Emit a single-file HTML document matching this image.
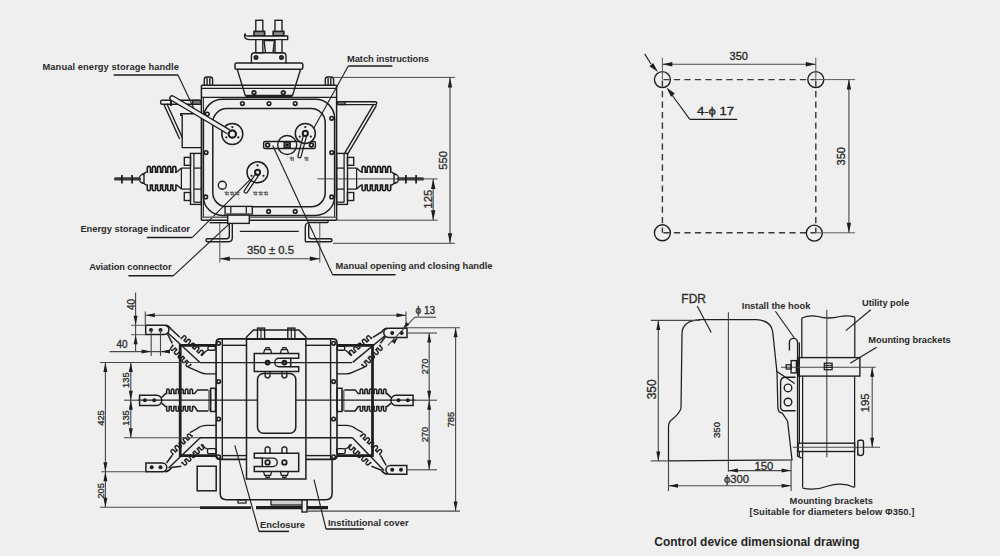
<!DOCTYPE html>
<html><head><meta charset="utf-8"><style>
html,body{margin:0;padding:0;background:#efefef;}
svg{display:block;font-family:"Liberation Sans",sans-serif;}
</style></head><body>
<svg width="1000" height="556" viewBox="0 0 1000 556">
<rect x="0" y="0" width="1000" height="556" fill="#efefef"/>
<line x1="662.40" y1="79.60" x2="815.80" y2="79.60" stroke="#3a3a3a" stroke-width="1.44" stroke-dasharray="6.2 4.3" stroke-dashoffset="-1"/>
<line x1="662.40" y1="232.80" x2="815.80" y2="232.80" stroke="#3a3a3a" stroke-width="1.44" stroke-dasharray="6.2 4.3" stroke-dashoffset="-1"/>
<line x1="662.40" y1="79.60" x2="662.40" y2="232.80" stroke="#3a3a3a" stroke-width="1.44" stroke-dasharray="6.2 4.3" stroke-dashoffset="-1"/>
<line x1="815.80" y1="79.60" x2="815.80" y2="232.80" stroke="#3a3a3a" stroke-width="1.44" stroke-dasharray="6.2 4.3" stroke-dashoffset="-1"/>
<circle cx="662.40" cy="79.60" r="8.00" stroke="#1e1e1e" stroke-width="1.38" fill="none"/>
<circle cx="815.80" cy="79.60" r="8.00" stroke="#1e1e1e" stroke-width="1.38" fill="none"/>
<circle cx="662.40" cy="232.80" r="8.00" stroke="#1e1e1e" stroke-width="1.38" fill="none"/>
<circle cx="814.30" cy="233.10" r="8.00" stroke="#1e1e1e" stroke-width="1.38" fill="none"/>
<line x1="662.40" y1="57.70" x2="662.40" y2="79.60" stroke="#5a5a5a" stroke-width="1.00" />
<line x1="815.80" y1="57.70" x2="815.80" y2="79.60" stroke="#5a5a5a" stroke-width="1.00" />
<line x1="662.40" y1="64.20" x2="815.80" y2="64.20" stroke="#484848" stroke-width="1.12" />
<path d="M662.40,64.20 L672.40,62.00 L672.40,66.40Z" fill="#1e1e1e"/>
<path d="M815.80,64.20 L805.80,66.40 L805.80,62.00Z" fill="#1e1e1e"/>
<text x="738.8" y="59.6" font-size="11" font-weight="normal" text-anchor="middle" fill="#222" stroke="#222" stroke-width="0.3">350</text>
<line x1="815.80" y1="79.60" x2="855.10" y2="79.60" stroke="#5a5a5a" stroke-width="1.00" />
<line x1="814.30" y1="232.80" x2="855.10" y2="232.80" stroke="#5a5a5a" stroke-width="1.00" />
<line x1="848.90" y1="79.60" x2="848.90" y2="232.80" stroke="#484848" stroke-width="1.12" />
<path d="M848.90,79.60 L851.10,89.60 L846.70,89.60Z" fill="#1e1e1e"/>
<path d="M848.90,232.80 L846.70,222.80 L851.10,222.80Z" fill="#1e1e1e"/>
<text x="845" y="156.2" font-size="11" font-weight="normal" text-anchor="middle" fill="#222" transform="rotate(-90 845 156.2)" stroke="#222" stroke-width="0.3">350</text>
<line x1="644.70" y1="53.90" x2="651.00" y2="64.00" stroke="#1e1e1e" stroke-width="1.12" />
<path d="M658.00,72.00 L649.42,66.28 L653.12,62.92Z" fill="#1e1e1e"/>
<line x1="672.00" y1="95.00" x2="689.80" y2="119.40" stroke="#1e1e1e" stroke-width="1.12" />
<path d="M666.50,87.50 L674.82,93.58 L670.98,96.78Z" fill="#1e1e1e"/>
<line x1="689.80" y1="119.40" x2="737.20" y2="119.40" stroke="#1e1e1e" stroke-width="1.12" />
<text x="697" y="114.5" font-size="11.5" font-weight="normal" text-anchor="start" fill="#222" textLength="37" lengthAdjust="spacingAndGlyphs" stroke="#222" stroke-width="0.3">4-&#981; 17</text>
<g transform="translate(42.5 70.4) scale(1 1.06)">
<text x="0" y="0" font-size="9.35" font-weight="bold" text-anchor="start" fill="#2b2b2b" textLength="136.5" lengthAdjust="spacing">Manual energy storage handle</text>
</g>
<line x1="113.60" y1="75.00" x2="178.00" y2="75.00" stroke="#1e1e1e" stroke-width="1.50" />
<line x1="178.00" y1="75.00" x2="196.00" y2="113.00" stroke="#1e1e1e" stroke-width="1.12" />
<g transform="translate(347 62.1) scale(1 1.06)">
<text x="0" y="0" font-size="9.35" font-weight="bold" text-anchor="start" fill="#2b2b2b" textLength="82" lengthAdjust="spacing">Match instructions</text>
</g>
<line x1="348.30" y1="66.00" x2="392.40" y2="66.00" stroke="#1e1e1e" stroke-width="1.50" />
<line x1="348.30" y1="66.00" x2="311.00" y2="133.20" stroke="#1e1e1e" stroke-width="1.12" />
<g transform="translate(80.4 232.3) scale(1 1.06)">
<text x="0" y="0" font-size="9.35" font-weight="bold" text-anchor="start" fill="#2b2b2b" textLength="109.6" lengthAdjust="spacing">Energy storage indicator</text>
</g>
<line x1="146.80" y1="237.40" x2="192.40" y2="237.40" stroke="#1e1e1e" stroke-width="1.50" />
<line x1="192.40" y1="237.40" x2="257.50" y2="172.30" stroke="#1e1e1e" stroke-width="1.12" />
<g transform="translate(89.2 270.2) scale(1 1.06)">
<text x="0" y="0" font-size="9.35" font-weight="bold" text-anchor="start" fill="#2b2b2b" textLength="82.4" lengthAdjust="spacing">Aviation connector</text>
</g>
<line x1="128.40" y1="275.80" x2="173.20" y2="275.80" stroke="#1e1e1e" stroke-width="1.50" />
<line x1="173.20" y1="275.80" x2="236.30" y2="217.40" stroke="#1e1e1e" stroke-width="1.12" />
<g transform="translate(335.6 269.2) scale(1 1.06)">
<text x="0" y="0" font-size="9.35" font-weight="bold" text-anchor="start" fill="#2b2b2b" textLength="156.8" lengthAdjust="spacing">Manual opening and closing handle</text>
</g>
<rect x="255.80" y="20.30" width="7.00" height="32.50" rx="0" stroke="#1e1e1e" stroke-width="1.38" fill="none"/>
<rect x="254.00" y="31.40" width="10.60" height="4.40" rx="0" stroke="#1e1e1e" stroke-width="1.62" fill="#8a8a8a"/>
<rect x="275.00" y="20.30" width="7.00" height="32.50" rx="0" stroke="#1e1e1e" stroke-width="1.38" fill="none"/>
<rect x="273.20" y="31.40" width="10.60" height="4.40" rx="0" stroke="#1e1e1e" stroke-width="1.62" fill="#8a8a8a"/>
<path d="M245,34.2 Q245.5,36.5 248,36 L287.7,36 L287.7,39.6 L249,39.6 Q244,39 244.6,35 Z" stroke="#1e1e1e" stroke-width="1.38" fill="#efefef" />
<path d="M264,40 L265.5,52.8 M274.5,40 L273,52.8 M264,40.6 L274.5,40.6" stroke="#1e1e1e" stroke-width="1.38" fill="none" />
<path d="M251.4,63.5 L251.4,56 Q251.4,52.8 254.6,52.8 L282.8,52.8 Q286,52.8 286,56 L286,63.5" stroke="#1e1e1e" stroke-width="1.38" fill="none" />
<circle cx="256.00" cy="57.40" r="1.70" stroke="#1e1e1e" stroke-width="1.62" fill="#555"/>
<circle cx="281.50" cy="57.40" r="1.70" stroke="#1e1e1e" stroke-width="1.62" fill="#555"/>
<rect x="235.00" y="63.10" width="67.80" height="6.10" rx="1.5" stroke="#1e1e1e" stroke-width="1.50" fill="none"/>
<line x1="237.20" y1="69.20" x2="245.40" y2="95.90" stroke="#1e1e1e" stroke-width="1.38" />
<line x1="300.60" y1="69.20" x2="292.40" y2="95.90" stroke="#1e1e1e" stroke-width="1.38" />
<line x1="245.40" y1="95.90" x2="292.40" y2="95.90" stroke="#1e1e1e" stroke-width="2.50" />
<circle cx="254.00" cy="92.60" r="1.80" stroke="#1e1e1e" stroke-width="1.75" fill="none"/>
<circle cx="283.30" cy="92.60" r="1.80" stroke="#1e1e1e" stroke-width="1.75" fill="none"/>
<line x1="201.40" y1="85.30" x2="336.60" y2="85.30" stroke="#1e1e1e" stroke-width="1.62" />
<line x1="201.40" y1="88.30" x2="336.60" y2="88.30" stroke="#1e1e1e" stroke-width="1.25" />
<line x1="201.40" y1="97.40" x2="336.60" y2="97.40" stroke="#1e1e1e" stroke-width="1.38" />
<line x1="201.40" y1="85.30" x2="201.40" y2="220.30" stroke="#1e1e1e" stroke-width="1.50" />
<line x1="203.40" y1="97.40" x2="203.40" y2="217.50" stroke="#1e1e1e" stroke-width="1.00" />
<line x1="336.60" y1="85.30" x2="336.60" y2="220.30" stroke="#1e1e1e" stroke-width="1.50" />
<line x1="334.60" y1="118.00" x2="334.60" y2="217.50" stroke="#1e1e1e" stroke-width="1.00" />
<line x1="201.40" y1="217.30" x2="336.60" y2="217.30" stroke="#666" stroke-width="1.62" />
<line x1="201.40" y1="220.30" x2="336.60" y2="220.30" stroke="#1e1e1e" stroke-width="1.50" />
<path d="M204.3,85 L204.3,79.5 Q204.3,77 206.8,77 L210.10000000000002,77 Q212.60000000000002,77 212.60000000000002,79.5 L212.60000000000002,85 M207.10000000000002,78 L207.10000000000002,85 M209.8,78 L209.8,85" stroke="#1e1e1e" stroke-width="1.38" fill="none" />
<path d="M325.3,85 L325.3,79.5 Q325.3,77 327.8,77 L331.1,77 Q333.6,77 333.6,79.5 L333.6,85 M328.1,78 L328.1,85 M330.8,78 L330.8,85" stroke="#1e1e1e" stroke-width="1.38" fill="none" />
<rect x="203.40" y="99.30" width="131.20" height="116.10" rx="19" stroke="#1e1e1e" stroke-width="1.50" fill="none"/>
<rect x="212.80" y="108.60" width="112.40" height="98.10" rx="14" stroke="#1e1e1e" stroke-width="1.50" fill="none"/>
<circle cx="242.40" cy="103.60" r="1.80" stroke="#1e1e1e" stroke-width="1.62" fill="none"/>
<circle cx="269.00" cy="103.60" r="1.80" stroke="#1e1e1e" stroke-width="1.62" fill="none"/>
<circle cx="295.20" cy="103.60" r="1.80" stroke="#1e1e1e" stroke-width="1.62" fill="none"/>
<circle cx="206.10" cy="152.60" r="1.80" stroke="#1e1e1e" stroke-width="1.62" fill="none"/>
<circle cx="331.70" cy="152.60" r="1.80" stroke="#1e1e1e" stroke-width="1.62" fill="none"/>
<circle cx="331.70" cy="118.30" r="1.80" stroke="#1e1e1e" stroke-width="1.62" fill="none"/>
<circle cx="207.30" cy="114.00" r="1.80" stroke="#1e1e1e" stroke-width="1.62" fill="none"/>
<circle cx="205.70" cy="196.90" r="1.80" stroke="#1e1e1e" stroke-width="1.62" fill="none"/>
<circle cx="331.70" cy="196.90" r="1.80" stroke="#1e1e1e" stroke-width="1.62" fill="none"/>
<circle cx="268.60" cy="211.40" r="1.80" stroke="#1e1e1e" stroke-width="1.62" fill="none"/>
<circle cx="295.20" cy="211.40" r="1.80" stroke="#1e1e1e" stroke-width="1.62" fill="none"/>
<rect x="160.60" y="100.30" width="39.80" height="4.00" rx="1.5" stroke="#1e1e1e" stroke-width="1.38" fill="none"/>
<rect x="192.60" y="100.30" width="8.30" height="4.00" rx="0" stroke="#1e1e1e" stroke-width="1.25" fill="#777"/>
<path d="M171,99 L171,106" stroke="#1e1e1e" stroke-width="2.00" fill="none" />
<line x1="164.13" y1="104.92" x2="179.63" y2="139.02" stroke="#1e1e1e" stroke-width="1.38" />
<line x1="166.87" y1="103.68" x2="182.37" y2="137.78" stroke="#1e1e1e" stroke-width="1.38" />
<rect x="338.00" y="101.70" width="38.70" height="2.90" rx="1.4" stroke="#1e1e1e" stroke-width="1.38" fill="none"/>
<rect x="337.50" y="101.70" width="7.50" height="2.90" rx="0" stroke="#1e1e1e" stroke-width="1.25" fill="#777"/>
<line x1="373.91" y1="103.83" x2="344.71" y2="153.03" stroke="#1e1e1e" stroke-width="1.38" />
<line x1="376.49" y1="105.37" x2="347.29" y2="154.57" stroke="#1e1e1e" stroke-width="1.38" />
<path d="M201.4,113.7 L180.7,113.7 L180.7,115.4 L182.2,115.4 L182.2,147.6 L201.4,147.6" stroke="#1e1e1e" stroke-width="1.38" fill="none" />
<circle cx="232.30" cy="134.00" r="10.50" stroke="#1e1e1e" stroke-width="1.50" fill="#efefef"/>
<circle cx="232.30" cy="134.00" r="3.60" stroke="#1e1e1e" stroke-width="2.00" fill="none"/>
<circle cx="232.30" cy="127.10" r="1.10" fill="#1e1e1e"/>
<circle cx="226.32" cy="137.45" r="1.10" fill="#1e1e1e"/>
<circle cx="238.28" cy="137.45" r="1.10" fill="#1e1e1e"/>
<path d="M229.78,129.83 L173.18,96.03 A2.3,2.3 0 0 0 170.82,99.97 L227.42,133.77" stroke="#1e1e1e" stroke-width="1.38" fill="#efefef" />
<circle cx="232.30" cy="134.00" r="3.60" stroke="#1e1e1e" stroke-width="2.00" fill="#efefef"/>
<rect x="263.60" y="141.50" width="51.80" height="7.00" rx="1.5" stroke="#1e1e1e" stroke-width="1.38" fill="#efefef"/>
<circle cx="267.60" cy="145.00" r="1.90" stroke="#1e1e1e" stroke-width="1.75" fill="none"/>
<circle cx="311.40" cy="145.00" r="1.90" stroke="#1e1e1e" stroke-width="1.75" fill="none"/>
<circle cx="305.30" cy="133.40" r="10.00" stroke="#1e1e1e" stroke-width="1.50" fill="#efefef"/>
<circle cx="305.30" cy="133.40" r="2.60" stroke="#1e1e1e" stroke-width="2.00" fill="none"/>
<circle cx="305.30" cy="127.00" r="1.10" fill="#1e1e1e"/>
<circle cx="299.76" cy="136.60" r="1.10" fill="#1e1e1e"/>
<circle cx="310.84" cy="136.60" r="1.10" fill="#1e1e1e"/>
<circle cx="287.20" cy="145.00" r="9.50" stroke="#1e1e1e" stroke-width="1.38" fill="none"/>
<rect x="284.30" y="142.10" width="5.80" height="5.80" rx="0" stroke="#1e1e1e" stroke-width="1.62" fill="#666"/>
<circle cx="287.20" cy="145.00" r="1.30" fill="#111"/>
<path d="M303.75,134.09 L297.95,155.79 A1.6,1.6 0 0 0 301.05,156.61 L306.85,134.91" stroke="#1e1e1e" stroke-width="1.25" fill="none" />
<circle cx="257.50" cy="172.30" r="10.50" stroke="#1e1e1e" stroke-width="1.50" fill="#efefef"/>
<circle cx="257.50" cy="172.30" r="2.60" stroke="#1e1e1e" stroke-width="2.00" fill="none"/>
<circle cx="257.50" cy="165.40" r="1.10" fill="#1e1e1e"/>
<circle cx="251.52" cy="175.75" r="1.10" fill="#1e1e1e"/>
<circle cx="263.48" cy="175.75" r="1.10" fill="#1e1e1e"/>
<path d="M256.39,172.56 L244.39,190.56 A1.7,1.7 0 0 0 247.21,192.44 L259.21,174.44" stroke="#1e1e1e" stroke-width="1.25" fill="none" />
<circle cx="222.30" cy="185.20" r="4.00" stroke="#1e1e1e" stroke-width="1.38" fill="none"/>
<path d="M289.5,157.88 L294.1,157.88 M290.19,159.95 L293.64,159.95 M291.8,156.5 L291.57,161.1 M289.96,156.96 L290.88,159.03 M292.95,156.96 L293.64,161.1" stroke="#555" stroke-width="0.75" fill="none"/>
<path d="M304,157.88 L308.6,157.88 M304.69,159.95 L308.14,159.95 M306.3,156.5 L306.07,161.1 M304.46,156.96 L305.38,159.03 M307.45,156.96 L308.14,161.1" stroke="#555" stroke-width="0.75" fill="none"/>
<path d="M224.5,192.51999999999998 L228.9,192.51999999999998 M225.16,194.5 L228.46,194.5 M226.7,191.2 L226.48,195.6 M224.94,191.64 L225.82,193.61999999999998 M227.8,191.64 L228.46,195.6" stroke="#555" stroke-width="0.75" fill="none"/>
<path d="M229.8,192.51999999999998 L234.20000000000002,192.51999999999998 M230.46,194.5 L233.76000000000002,194.5 M232.0,191.2 L231.78,195.6 M230.24,191.64 L231.12,193.61999999999998 M233.10000000000002,191.64 L233.76000000000002,195.6" stroke="#555" stroke-width="0.75" fill="none"/>
<path d="M235.1,192.51999999999998 L239.5,192.51999999999998 M235.76,194.5 L239.06,194.5 M237.29999999999998,191.2 L237.07999999999998,195.6 M235.54,191.64 L236.42,193.61999999999998 M238.4,191.64 L239.06,195.6" stroke="#555" stroke-width="0.75" fill="none"/>
<path d="M253.0,192.51999999999998 L257.4,192.51999999999998 M253.66,194.5 L256.96,194.5 M255.2,191.2 L254.98,195.6 M253.44,191.64 L254.32,193.61999999999998 M256.3,191.64 L256.96,195.6" stroke="#555" stroke-width="0.75" fill="none"/>
<path d="M258.3,192.51999999999998 L262.7,192.51999999999998 M258.96000000000004,194.5 L262.26,194.5 M260.5,191.2 L260.28000000000003,195.6 M258.74,191.64 L259.62,193.61999999999998 M261.6,191.64 L262.26,195.6" stroke="#555" stroke-width="0.75" fill="none"/>
<path d="M263.6,192.51999999999998 L268.0,192.51999999999998 M264.26000000000005,194.5 L267.56,194.5 M265.8,191.2 L265.58000000000004,195.6 M264.04,191.64 L264.92,193.61999999999998 M266.90000000000003,191.64 L267.56,195.6" stroke="#555" stroke-width="0.75" fill="none"/>
<line x1="317.40" y1="178.90" x2="437.60" y2="178.90" stroke="#484848" stroke-width="1.00" />
<rect x="190.50" y="153.40" width="10.90" height="51.00" rx="0" stroke="#1e1e1e" stroke-width="1.38" fill="none"/>
<line x1="193.90" y1="153.40" x2="193.90" y2="202.20" stroke="#1e1e1e" stroke-width="1.25" />
<line x1="193.90" y1="202.20" x2="201.40" y2="202.20" stroke="#1e1e1e" stroke-width="1.25" />
<line x1="193.90" y1="168.10" x2="201.40" y2="168.10" stroke="#1e1e1e" stroke-width="1.25" />
<line x1="193.90" y1="189.10" x2="201.40" y2="189.10" stroke="#1e1e1e" stroke-width="1.25" />
<rect x="184.30" y="157.40" width="6.20" height="7.90" rx="0" stroke="#1e1e1e" stroke-width="1.38" fill="none"/>
<rect x="184.30" y="192.50" width="6.20" height="8.00" rx="0" stroke="#1e1e1e" stroke-width="1.38" fill="none"/>
<line x1="181.40" y1="168.10" x2="190.50" y2="168.10" stroke="#1e1e1e" stroke-width="1.25" />
<line x1="181.40" y1="189.10" x2="190.50" y2="189.10" stroke="#1e1e1e" stroke-width="1.25" />
<line x1="181.40" y1="168.10" x2="181.40" y2="189.10" stroke="#1e1e1e" stroke-width="1.25" />
<path d="M146.30,172.10 L147.27,172.10 L147.27,167.98 A1.58,1.58 0 0 1 150.43,167.98 L150.43,172.10 L152.37,172.10 L152.37,167.98 A1.58,1.58 0 0 1 155.53,167.98 L155.53,172.10 L157.47,172.10 L157.47,167.98 A1.58,1.58 0 0 1 160.63,167.98 L160.63,172.10 L162.57,172.10 L162.57,167.98 A1.58,1.58 0 0 1 165.73,167.98 L165.73,172.10 L167.67,172.10 L167.67,167.98 A1.58,1.58 0 0 1 170.83,167.98 L170.83,172.10 L172.77,172.10 L172.77,167.98 A1.58,1.58 0 0 1 175.93,167.98 L175.93,172.10 L176.90,172.10" stroke="#1e1e1e" stroke-width="1.62" fill="none" />
<path d="M146.30,185.10 L147.27,185.10 L147.27,189.22 A1.58,1.58 0 0 0 150.43,189.22 L150.43,185.10 L152.37,185.10 L152.37,189.22 A1.58,1.58 0 0 0 155.53,189.22 L155.53,185.10 L157.47,185.10 L157.47,189.22 A1.58,1.58 0 0 0 160.63,189.22 L160.63,185.10 L162.57,185.10 L162.57,189.22 A1.58,1.58 0 0 0 165.73,189.22 L165.73,185.10 L167.67,185.10 L167.67,189.22 A1.58,1.58 0 0 0 170.83,189.22 L170.83,185.10 L172.77,185.10 L172.77,189.22 A1.58,1.58 0 0 0 175.93,189.22 L175.93,185.10 L176.90,185.10" stroke="#1e1e1e" stroke-width="1.62" fill="none" />
<line x1="176.90" y1="172.10" x2="181.40" y2="168.10" stroke="#1e1e1e" stroke-width="1.38" />
<line x1="176.90" y1="185.10" x2="181.40" y2="189.10" stroke="#1e1e1e" stroke-width="1.38" />
<path d="M146.3,172.1 Q143,174 141.5,175" stroke="#1e1e1e" stroke-width="1.38" fill="none" />
<path d="M146.3,185.1 Q143,183 141.5,182" stroke="#1e1e1e" stroke-width="1.38" fill="none" />
<path d="M144,174 A4.6,4.6 0 0 0 144,183.4 Z" stroke="#1e1e1e" stroke-width="1.38" fill="none" />
<line x1="115.50" y1="178.90" x2="139.50" y2="178.90" stroke="#3a3a3a" stroke-width="3.25" stroke-linecap="round"/>
<line x1="121.90" y1="175.00" x2="121.90" y2="183.50" stroke="#1e1e1e" stroke-width="1.75" />
<line x1="132.10" y1="175.00" x2="132.10" y2="183.50" stroke="#1e1e1e" stroke-width="1.75" />
<g transform="translate(538.0,0) scale(-1,1)">
<rect x="190.50" y="153.40" width="10.90" height="51.00" rx="0" stroke="#1e1e1e" stroke-width="1.38" fill="none"/>
<line x1="193.90" y1="153.40" x2="193.90" y2="202.20" stroke="#1e1e1e" stroke-width="1.25" />
<line x1="193.90" y1="202.20" x2="201.40" y2="202.20" stroke="#1e1e1e" stroke-width="1.25" />
<line x1="193.90" y1="168.10" x2="201.40" y2="168.10" stroke="#1e1e1e" stroke-width="1.25" />
<line x1="193.90" y1="189.10" x2="201.40" y2="189.10" stroke="#1e1e1e" stroke-width="1.25" />
<rect x="184.30" y="157.40" width="6.20" height="7.90" rx="0" stroke="#1e1e1e" stroke-width="1.38" fill="none"/>
<rect x="184.30" y="192.50" width="6.20" height="8.00" rx="0" stroke="#1e1e1e" stroke-width="1.38" fill="none"/>
<line x1="181.40" y1="168.10" x2="190.50" y2="168.10" stroke="#1e1e1e" stroke-width="1.25" />
<line x1="181.40" y1="189.10" x2="190.50" y2="189.10" stroke="#1e1e1e" stroke-width="1.25" />
<line x1="181.40" y1="168.10" x2="181.40" y2="189.10" stroke="#1e1e1e" stroke-width="1.25" />
<path d="M146.30,172.10 L147.27,172.10 L147.27,167.98 A1.58,1.58 0 0 1 150.43,167.98 L150.43,172.10 L152.37,172.10 L152.37,167.98 A1.58,1.58 0 0 1 155.53,167.98 L155.53,172.10 L157.47,172.10 L157.47,167.98 A1.58,1.58 0 0 1 160.63,167.98 L160.63,172.10 L162.57,172.10 L162.57,167.98 A1.58,1.58 0 0 1 165.73,167.98 L165.73,172.10 L167.67,172.10 L167.67,167.98 A1.58,1.58 0 0 1 170.83,167.98 L170.83,172.10 L172.77,172.10 L172.77,167.98 A1.58,1.58 0 0 1 175.93,167.98 L175.93,172.10 L176.90,172.10" stroke="#1e1e1e" stroke-width="1.62" fill="none" />
<path d="M146.30,185.10 L147.27,185.10 L147.27,189.22 A1.58,1.58 0 0 0 150.43,189.22 L150.43,185.10 L152.37,185.10 L152.37,189.22 A1.58,1.58 0 0 0 155.53,189.22 L155.53,185.10 L157.47,185.10 L157.47,189.22 A1.58,1.58 0 0 0 160.63,189.22 L160.63,185.10 L162.57,185.10 L162.57,189.22 A1.58,1.58 0 0 0 165.73,189.22 L165.73,185.10 L167.67,185.10 L167.67,189.22 A1.58,1.58 0 0 0 170.83,189.22 L170.83,185.10 L172.77,185.10 L172.77,189.22 A1.58,1.58 0 0 0 175.93,189.22 L175.93,185.10 L176.90,185.10" stroke="#1e1e1e" stroke-width="1.62" fill="none" />
<line x1="176.90" y1="172.10" x2="181.40" y2="168.10" stroke="#1e1e1e" stroke-width="1.38" />
<line x1="176.90" y1="185.10" x2="181.40" y2="189.10" stroke="#1e1e1e" stroke-width="1.38" />
<path d="M146.3,172.1 Q143,174 141.5,175" stroke="#1e1e1e" stroke-width="1.38" fill="none" />
<path d="M146.3,185.1 Q143,183 141.5,182" stroke="#1e1e1e" stroke-width="1.38" fill="none" />
<path d="M144,174 A4.6,4.6 0 0 0 144,183.4 Z" stroke="#1e1e1e" stroke-width="1.38" fill="none" />
<line x1="115.50" y1="178.90" x2="139.50" y2="178.90" stroke="#3a3a3a" stroke-width="3.25" stroke-linecap="round"/>
<line x1="121.90" y1="175.00" x2="121.90" y2="183.50" stroke="#1e1e1e" stroke-width="1.75" />
<line x1="132.10" y1="175.00" x2="132.10" y2="183.50" stroke="#1e1e1e" stroke-width="1.75" />
</g>
<rect x="225.10" y="206.40" width="27.20" height="8.70" rx="0" stroke="#1e1e1e" stroke-width="1.38" fill="#efefef"/>
<line x1="230.80" y1="206.40" x2="230.80" y2="215.10" stroke="#1e1e1e" stroke-width="1.25" />
<line x1="246.30" y1="206.40" x2="246.30" y2="215.10" stroke="#1e1e1e" stroke-width="1.25" />
<line x1="225.10" y1="214.10" x2="252.30" y2="214.10" stroke="#666" stroke-width="2.00" />
<rect x="227.70" y="215.10" width="21.60" height="8.30" rx="0" stroke="#1e1e1e" stroke-width="1.38" fill="#efefef"/>
<line x1="209.60" y1="222.70" x2="227.70" y2="222.70" stroke="#1e1e1e" stroke-width="1.38" />
<path d="M232.3,223.4 L232.3,238 Q232.3,241.7 228.6,241.7 L207.5,241.7 Q206,241.7 206,240.2 Q206,238.7 207.5,238.7 L226.5,238.7 Q229.3,238.7 229.3,236 L229.3,223.4" stroke="#1e1e1e" stroke-width="1.38" fill="none" />
<path d="M307.9,222.5 L327.5,222.5 Q329.1,221.4 327.5,220.3" stroke="#1e1e1e" stroke-width="1.38" fill="none" />
<path d="M305.3,241.7 L330.5,241.7 Q332,241.7 332,240.2 Q332,238.7 330.5,238.7 L311.4,238.7 Q308.7,238.7 308.7,236 L308.7,224.5 M305.3,241.7 Q305.3,241.7 305.3,238 L305.3,227 Q305.3,223 309,222.6" stroke="#1e1e1e" stroke-width="1.38" fill="none" />
<line x1="239.80" y1="231.40" x2="298.80" y2="231.40" stroke="#1e1e1e" stroke-width="1.38" />
<line x1="219.80" y1="223.00" x2="219.80" y2="262.50" stroke="#505050" stroke-width="1.00" />
<line x1="319.80" y1="223.00" x2="319.80" y2="262.50" stroke="#505050" stroke-width="1.00" />
<line x1="219.80" y1="258.70" x2="319.80" y2="258.70" stroke="#484848" stroke-width="1.12" />
<path d="M219.80,258.70 L229.80,256.50 L229.80,260.90Z" fill="#1e1e1e"/>
<path d="M319.80,258.70 L309.80,260.90 L309.80,256.50Z" fill="#1e1e1e"/>
<text x="270.5" y="254.3" font-size="11.3" font-weight="normal" text-anchor="middle" fill="#2a2a2a" stroke="#2a2a2a" stroke-width="0.3">350 &#177; 0.5</text>
<line x1="333.00" y1="77.40" x2="454.90" y2="77.40" stroke="#484848" stroke-width="1.00" />
<line x1="333.00" y1="243.30" x2="454.90" y2="243.30" stroke="#484848" stroke-width="1.00" />
<line x1="450.00" y1="77.40" x2="450.00" y2="243.30" stroke="#484848" stroke-width="1.12" />
<path d="M450.00,77.40 L452.20,87.40 L447.80,87.40Z" fill="#1e1e1e"/>
<path d="M450.00,243.30 L447.80,233.30 L452.20,233.30Z" fill="#1e1e1e"/>
<text x="447.5" y="160.3" font-size="11.3" font-weight="normal" text-anchor="middle" fill="#2a2a2a" transform="rotate(-90 447.5 160.3)" stroke="#2a2a2a" stroke-width="0.3">550</text>
<line x1="336.60" y1="220.20" x2="437.60" y2="220.20" stroke="#484848" stroke-width="1.00" />
<line x1="433.20" y1="178.90" x2="433.20" y2="220.20" stroke="#484848" stroke-width="1.12" />
<path d="M433.20,178.90 L435.40,188.90 L431.00,188.90Z" fill="#1e1e1e"/>
<path d="M433.20,220.20 L431.00,210.20 L435.40,210.20Z" fill="#1e1e1e"/>
<text x="431.8" y="199.2" font-size="11.3" font-weight="normal" text-anchor="middle" fill="#2a2a2a" transform="rotate(-90 431.8 199.2)" stroke="#2a2a2a" stroke-width="0.3">125</text>
<line x1="272.70" y1="145.50" x2="332.60" y2="274.80" stroke="#1e1e1e" stroke-width="1.12" />
<line x1="332.60" y1="274.80" x2="395.60" y2="274.80" stroke="#1e1e1e" stroke-width="1.50" />
<path d="M216.1,345.3 L180.2,345.3 L180.2,455.6 L216.1,455.6 M337,345.3 L372.5,345.3 L372.5,455.6 L337,455.6" stroke="#1e1e1e" stroke-width="2.75" fill="none" />
<line x1="222.30" y1="455.60" x2="246.50" y2="455.60" stroke="#1e1e1e" stroke-width="1.38" />
<line x1="305.90" y1="455.60" x2="330.60" y2="455.60" stroke="#1e1e1e" stroke-width="1.38" />
<path d="M139.6,395.3 L156.75000000000003,395.3 A5.049999999999983,5.049999999999983 0 0 1 156.75000000000003,405.4 L139.6,405.4 Z" stroke="#1e1e1e" stroke-width="1.50" fill="#efefef" />
<circle cx="144.90" cy="400.30" r="2.00" fill="#1e1e1e"/>
<circle cx="154.20" cy="400.30" r="2.00" fill="#1e1e1e"/>
<path d="M161.5,397.5 L165.6,393.6  L166.65,393.60 L166.65,390.18 A1.28,1.28 0 0 1 169.22,390.18 L169.22,393.60 L171.32,393.60 L171.32,390.18 A1.28,1.28 0 0 1 173.88,390.18 L173.88,393.60 L175.98,393.60 L175.98,390.18 A1.28,1.28 0 0 1 178.55,390.18 L178.55,393.60 L180.65,393.60 L180.65,390.18 A1.28,1.28 0 0 1 183.22,390.18 L183.22,393.60 L185.32,393.60 L185.32,390.18 A1.28,1.28 0 0 1 187.88,390.18 L187.88,393.60 L189.98,393.60 L189.98,390.18 A1.28,1.28 0 0 1 192.55,390.18 L192.55,393.60 L193.60,393.60 L194.5,393.6 L197.5,389.9 L208.4,389.9" stroke="#1e1e1e" stroke-width="1.50" fill="none" />
<path d="M161.5,403.2 L165.6,406.6  L166.65,406.60 L166.65,409.92 A1.28,1.28 0 0 0 169.22,409.92 L169.22,406.60 L171.32,406.60 L171.32,409.92 A1.28,1.28 0 0 0 173.88,409.92 L173.88,406.60 L175.98,406.60 L175.98,409.92 A1.28,1.28 0 0 0 178.55,409.92 L178.55,406.60 L180.65,406.60 L180.65,409.92 A1.28,1.28 0 0 0 183.22,409.92 L183.22,406.60 L185.32,406.60 L185.32,409.92 A1.28,1.28 0 0 0 187.88,409.92 L187.88,406.60 L189.98,406.60 L189.98,409.92 A1.28,1.28 0 0 0 192.55,409.92 L192.55,406.60 L193.60,406.60 L194.5,406.6 L197.5,411 L208.4,411" stroke="#1e1e1e" stroke-width="1.50" fill="none" />
<line x1="209.40" y1="389.90" x2="209.40" y2="411.00" stroke="#777" stroke-width="2.50" />
<rect x="210.70" y="388.30" width="4.80" height="23.20" rx="0" stroke="#1e1e1e" stroke-width="1.50" fill="none"/>
<path d="M145.7,325.3 L164.35000000000002,325.3 A4.549999999999983,4.549999999999983 0 0 1 164.35000000000002,334.4 L145.7,334.4 Z" stroke="#1e1e1e" stroke-width="1.50" fill="#efefef" />
<circle cx="151.00" cy="330.00" r="2.00" fill="#1e1e1e"/>
<circle cx="160.50" cy="330.00" r="2.00" fill="#1e1e1e"/>
<path d="M180.64,337.60 L181.55,338.37 L183.20,336.41 A1.63,1.63 0 0 1 185.70,338.52 L184.04,340.48 L185.85,342.01 L187.50,340.05 A1.63,1.63 0 0 1 190.00,342.16 L188.34,344.12 L190.15,345.65 L191.80,343.69 A1.63,1.63 0 0 1 194.30,345.80 L192.64,347.76 L194.45,349.29 L196.10,347.33 A1.63,1.63 0 0 1 198.60,349.44 L196.94,351.40 L198.75,352.93 L200.40,350.97 A1.63,1.63 0 0 1 202.90,353.08 L201.24,355.04 L202.14,355.80" stroke="#1e1e1e" stroke-width="1.44" fill="none" />
<path d="M172.13,344.86 L172.94,345.71 L171.07,347.48 A1.63,1.63 0 0 0 173.31,349.85 L175.17,348.08 L176.80,349.79 L174.93,351.56 A1.63,1.63 0 0 0 177.17,353.93 L179.03,352.16 L180.66,353.87 L178.79,355.64 A1.63,1.63 0 0 0 181.03,358.01 L182.89,356.24 L184.52,357.95 L182.65,359.72 A1.63,1.63 0 0 0 184.89,362.09 L186.75,360.32 L188.38,362.03 L186.51,363.80 A1.63,1.63 0 0 0 188.75,366.17 L190.61,364.40 L191.43,365.26" stroke="#1e1e1e" stroke-width="1.44" fill="none" />
<path d="M165.5,325.3 Q169,325.5 171,329 L179.8,337.3" stroke="#1e1e1e" stroke-width="1.50" fill="none" />
<path d="M167.5,334 L172.3,343.3" stroke="#1e1e1e" stroke-width="1.50" fill="none" />
<path d="M201.9,355.6 L204.5,352.5 Q206,350.8 208,350.2" stroke="#1e1e1e" stroke-width="1.38" fill="none" />
<rect x="208.00" y="346.30" width="7.40" height="3.90" rx="1.3" stroke="#1e1e1e" stroke-width="1.38" fill="#efefef"/>
<path d="M167.5,332.5 L200,362.4" stroke="#1e1e1e" stroke-width="1.38" fill="none" />
<path d="M188.3,367.2 L200.3,372.4 Q203,373.9 207,373.9 L216,373.9" stroke="#1e1e1e" stroke-width="1.38" fill="none" />
<path d="M145.9,462.9 L162.4,462.9 A4.400000000000006,4.400000000000006 0 0 1 162.4,471.7 L145.9,471.7 Z" stroke="#1e1e1e" stroke-width="1.50" fill="#efefef" />
<circle cx="151.70" cy="467.30" r="2.00" fill="#1e1e1e"/>
<circle cx="160.50" cy="467.30" r="2.00" fill="#1e1e1e"/>
<path d="M172.24,454.93 L173.10,454.11 L171.34,452.25 A1.64,1.64 0 0 1 173.72,450.00 L175.48,451.86 L177.20,450.23 L175.44,448.37 A1.64,1.64 0 0 1 177.82,446.12 L179.58,447.98 L181.30,446.35 L179.54,444.49 A1.64,1.64 0 0 1 181.92,442.24 L183.68,444.10 L185.40,442.47 L183.64,440.61 A1.64,1.64 0 0 1 186.02,438.36 L187.78,440.22 L189.50,438.59 L187.74,436.73 A1.64,1.64 0 0 1 190.12,434.48 L191.88,436.34 L192.74,435.53" stroke="#1e1e1e" stroke-width="1.44" fill="none" />
<path d="M181.30,463.24 L182.18,462.45 L183.89,464.35 A1.64,1.64 0 0 0 186.33,462.16 L184.61,460.25 L186.38,458.67 L188.09,460.57 A1.64,1.64 0 0 0 190.53,458.38 L188.81,456.47 L190.58,454.89 L192.29,456.79 A1.64,1.64 0 0 0 194.73,454.60 L193.01,452.69 L194.78,451.11 L196.49,453.01 A1.64,1.64 0 0 0 198.93,450.82 L197.21,448.91 L198.98,447.33 L200.69,449.23 A1.64,1.64 0 0 0 203.13,447.04 L201.41,445.13 L202.30,444.34" stroke="#1e1e1e" stroke-width="1.44" fill="none" />
<path d="M165,471.7 Q169,471.5 171.5,467.5 L181.3,466.3" stroke="#1e1e1e" stroke-width="1.50" fill="none" />
<path d="M166.5,463 L172.2,455.3" stroke="#1e1e1e" stroke-width="1.50" fill="none" />
<path d="M189.9,432.6 L196.5,429 Q201,425.4 207,425.4 L216,425.4" stroke="#1e1e1e" stroke-width="1.38" fill="none" />
<path d="M168.6,468 L200.5,437.6" stroke="#1e1e1e" stroke-width="1.38" fill="none" />
<path d="M202.5,444.3 L204.5,447.5 Q206,448.6 207.5,448.6" stroke="#1e1e1e" stroke-width="1.38" fill="none" />
<rect x="207.50" y="448.60" width="8.50" height="5.00" rx="1.3" stroke="#1e1e1e" stroke-width="1.38" fill="#efefef"/>
<g transform="translate(552.7,0) scale(-1,1)">
<path d="M139.6,395.3 L156.75000000000003,395.3 A5.049999999999983,5.049999999999983 0 0 1 156.75000000000003,405.4 L139.6,405.4 Z" stroke="#1e1e1e" stroke-width="1.50" fill="#efefef" />
<circle cx="144.90" cy="400.30" r="2.00" fill="#1e1e1e"/>
<circle cx="154.20" cy="400.30" r="2.00" fill="#1e1e1e"/>
<path d="M161.5,397.5 L165.6,393.6  L166.65,393.60 L166.65,390.18 A1.28,1.28 0 0 1 169.22,390.18 L169.22,393.60 L171.32,393.60 L171.32,390.18 A1.28,1.28 0 0 1 173.88,390.18 L173.88,393.60 L175.98,393.60 L175.98,390.18 A1.28,1.28 0 0 1 178.55,390.18 L178.55,393.60 L180.65,393.60 L180.65,390.18 A1.28,1.28 0 0 1 183.22,390.18 L183.22,393.60 L185.32,393.60 L185.32,390.18 A1.28,1.28 0 0 1 187.88,390.18 L187.88,393.60 L189.98,393.60 L189.98,390.18 A1.28,1.28 0 0 1 192.55,390.18 L192.55,393.60 L193.60,393.60 L194.5,393.6 L197.5,389.9 L208.4,389.9" stroke="#1e1e1e" stroke-width="1.50" fill="none" />
<path d="M161.5,403.2 L165.6,406.6  L166.65,406.60 L166.65,409.92 A1.28,1.28 0 0 0 169.22,409.92 L169.22,406.60 L171.32,406.60 L171.32,409.92 A1.28,1.28 0 0 0 173.88,409.92 L173.88,406.60 L175.98,406.60 L175.98,409.92 A1.28,1.28 0 0 0 178.55,409.92 L178.55,406.60 L180.65,406.60 L180.65,409.92 A1.28,1.28 0 0 0 183.22,409.92 L183.22,406.60 L185.32,406.60 L185.32,409.92 A1.28,1.28 0 0 0 187.88,409.92 L187.88,406.60 L189.98,406.60 L189.98,409.92 A1.28,1.28 0 0 0 192.55,409.92 L192.55,406.60 L193.60,406.60 L194.5,406.6 L197.5,411 L208.4,411" stroke="#1e1e1e" stroke-width="1.50" fill="none" />
<line x1="209.40" y1="389.90" x2="209.40" y2="411.00" stroke="#777" stroke-width="2.50" />
<rect x="210.70" y="388.30" width="4.80" height="23.20" rx="0" stroke="#1e1e1e" stroke-width="1.50" fill="none"/>
<path d="M145.7,328.3 L164.35000000000002,328.3 A4.549999999999983,4.549999999999983 0 0 1 164.35000000000002,337.4 L145.7,337.4 Z" stroke="#1e1e1e" stroke-width="1.50" fill="#efefef" />
<circle cx="151.00" cy="333.00" r="2.00" fill="#1e1e1e"/>
<circle cx="160.50" cy="333.00" r="2.00" fill="#1e1e1e"/>
<path d="M180.64,337.60 L181.55,338.37 L183.20,336.41 A1.63,1.63 0 0 1 185.70,338.52 L184.04,340.48 L185.85,342.01 L187.50,340.05 A1.63,1.63 0 0 1 190.00,342.16 L188.34,344.12 L190.15,345.65 L191.80,343.69 A1.63,1.63 0 0 1 194.30,345.80 L192.64,347.76 L194.45,349.29 L196.10,347.33 A1.63,1.63 0 0 1 198.60,349.44 L196.94,351.40 L198.75,352.93 L200.40,350.97 A1.63,1.63 0 0 1 202.90,353.08 L201.24,355.04 L202.14,355.80" stroke="#1e1e1e" stroke-width="1.44" fill="none" />
<path d="M172.13,344.86 L172.94,345.71 L171.07,347.48 A1.63,1.63 0 0 0 173.31,349.85 L175.17,348.08 L176.80,349.79 L174.93,351.56 A1.63,1.63 0 0 0 177.17,353.93 L179.03,352.16 L180.66,353.87 L178.79,355.64 A1.63,1.63 0 0 0 181.03,358.01 L182.89,356.24 L184.52,357.95 L182.65,359.72 A1.63,1.63 0 0 0 184.89,362.09 L186.75,360.32 L188.38,362.03 L186.51,363.80 A1.63,1.63 0 0 0 188.75,366.17 L190.61,364.40 L191.43,365.26" stroke="#1e1e1e" stroke-width="1.44" fill="none" />
<path d="M165.5,328.3 Q169,328.5 171,332.0 L179.8,337.3" stroke="#1e1e1e" stroke-width="1.50" fill="none" />
<path d="M167.5,337.0 L172.3,343.3" stroke="#1e1e1e" stroke-width="1.50" fill="none" />
<path d="M201.9,355.6 L204.5,352.5 Q206,350.8 208,350.2" stroke="#1e1e1e" stroke-width="1.38" fill="none" />
<rect x="208.00" y="346.30" width="7.40" height="3.90" rx="1.3" stroke="#1e1e1e" stroke-width="1.38" fill="#efefef"/>
<path d="M167.5,335.5 L200,362.4" stroke="#1e1e1e" stroke-width="1.38" fill="none" />
<path d="M188.3,367.2 L200.3,372.4 Q203,373.9 207,373.9 L216,373.9" stroke="#1e1e1e" stroke-width="1.38" fill="none" />
<path d="M145.9,465.4 L162.4,465.4 A4.400000000000006,4.400000000000006 0 0 1 162.4,474.2 L145.9,474.2 Z" stroke="#1e1e1e" stroke-width="1.50" fill="#efefef" />
<circle cx="151.70" cy="469.80" r="2.00" fill="#1e1e1e"/>
<circle cx="160.50" cy="469.80" r="2.00" fill="#1e1e1e"/>
<path d="M172.24,454.93 L173.10,454.11 L171.34,452.25 A1.64,1.64 0 0 1 173.72,450.00 L175.48,451.86 L177.20,450.23 L175.44,448.37 A1.64,1.64 0 0 1 177.82,446.12 L179.58,447.98 L181.30,446.35 L179.54,444.49 A1.64,1.64 0 0 1 181.92,442.24 L183.68,444.10 L185.40,442.47 L183.64,440.61 A1.64,1.64 0 0 1 186.02,438.36 L187.78,440.22 L189.50,438.59 L187.74,436.73 A1.64,1.64 0 0 1 190.12,434.48 L191.88,436.34 L192.74,435.53" stroke="#1e1e1e" stroke-width="1.44" fill="none" />
<path d="M181.30,463.24 L182.18,462.45 L183.89,464.35 A1.64,1.64 0 0 0 186.33,462.16 L184.61,460.25 L186.38,458.67 L188.09,460.57 A1.64,1.64 0 0 0 190.53,458.38 L188.81,456.47 L190.58,454.89 L192.29,456.79 A1.64,1.64 0 0 0 194.73,454.60 L193.01,452.69 L194.78,451.11 L196.49,453.01 A1.64,1.64 0 0 0 198.93,450.82 L197.21,448.91 L198.98,447.33 L200.69,449.23 A1.64,1.64 0 0 0 203.13,447.04 L201.41,445.13 L202.30,444.34" stroke="#1e1e1e" stroke-width="1.44" fill="none" />
<path d="M165,474.2 Q169,474.0 171.5,470.0 L181.3,466.3" stroke="#1e1e1e" stroke-width="1.50" fill="none" />
<path d="M166.5,465.5 L172.2,455.3" stroke="#1e1e1e" stroke-width="1.50" fill="none" />
<path d="M189.9,432.6 L196.5,429 Q201,425.4 207,425.4 L216,425.4" stroke="#1e1e1e" stroke-width="1.38" fill="none" />
<path d="M168.6,470.5 L200.5,437.6" stroke="#1e1e1e" stroke-width="1.38" fill="none" />
<path d="M202.5,444.3 L204.5,447.5 Q206,448.6 207.5,448.6" stroke="#1e1e1e" stroke-width="1.38" fill="none" />
<rect x="207.50" y="448.60" width="8.50" height="5.00" rx="1.3" stroke="#1e1e1e" stroke-width="1.38" fill="#efefef"/>
</g>
<path d="M246.5,459.4 L220.1,459.4 Q216.1,459.4 216.1,455.4 L216.1,342.9 Q216.1,338.9 220.1,338.9 L333,338.9 Q337,338.9 337,342.9 L337,455.4 Q337,459.4 333,459.4 L305.9,459.4" stroke="#1e1e1e" stroke-width="1.62" fill="none" />
<line x1="222.30" y1="339.00" x2="222.30" y2="459.40" stroke="#1e1e1e" stroke-width="1.38" />
<line x1="330.60" y1="339.00" x2="330.60" y2="459.40" stroke="#1e1e1e" stroke-width="1.38" />
<line x1="222.30" y1="345.30" x2="246.50" y2="345.30" stroke="#1e1e1e" stroke-width="1.38" />
<line x1="305.90" y1="345.30" x2="330.60" y2="345.30" stroke="#1e1e1e" stroke-width="1.38" />
<path d="M220.2,459.4 L220.2,493.5 Q220.2,499.7 226.4,499.7 L325.9,499.7 Q332.1,499.7 332.1,493.5 L332.1,459.4" stroke="#1e1e1e" stroke-width="1.50" fill="none" />
<circle cx="218.60" cy="343.30" r="1.80" stroke="#1e1e1e" stroke-width="1.62" fill="none"/>
<circle cx="333.60" cy="343.30" r="1.80" stroke="#1e1e1e" stroke-width="1.62" fill="none"/>
<circle cx="218.60" cy="381.60" r="1.80" stroke="#1e1e1e" stroke-width="1.62" fill="none"/>
<circle cx="333.60" cy="381.60" r="1.80" stroke="#1e1e1e" stroke-width="1.62" fill="none"/>
<circle cx="218.60" cy="419.00" r="1.80" stroke="#1e1e1e" stroke-width="1.62" fill="none"/>
<circle cx="333.60" cy="419.00" r="1.80" stroke="#1e1e1e" stroke-width="1.62" fill="none"/>
<circle cx="218.60" cy="456.80" r="1.80" stroke="#1e1e1e" stroke-width="1.62" fill="none"/>
<circle cx="333.60" cy="456.80" r="1.80" stroke="#1e1e1e" stroke-width="1.62" fill="none"/>
<line x1="200.00" y1="362.60" x2="352.00" y2="362.60" stroke="#1e1e1e" stroke-width="1.38" />
<line x1="137.60" y1="400.20" x2="257.50" y2="400.20" stroke="#1e1e1e" stroke-width="1.25" />
<line x1="295.80" y1="400.20" x2="415.20" y2="400.20" stroke="#1e1e1e" stroke-width="1.25" />
<line x1="200.00" y1="437.80" x2="352.00" y2="437.80" stroke="#1e1e1e" stroke-width="1.38" />
<path d="M246.5,479 L246.5,337 L253.5,330 L298.9,330 L305.9,337 L305.9,479 Z" stroke="#1e1e1e" stroke-width="1.50" fill="none" />
<rect x="257.50" y="328.10" width="7.10" height="11.00" rx="0" stroke="#1e1e1e" stroke-width="1.38" fill="none"/>
<line x1="261.00" y1="328.10" x2="261.00" y2="339.00" stroke="#1e1e1e" stroke-width="1.12" />
<rect x="287.80" y="328.10" width="7.10" height="11.00" rx="0" stroke="#1e1e1e" stroke-width="1.38" fill="none"/>
<line x1="291.30" y1="328.10" x2="291.30" y2="339.00" stroke="#1e1e1e" stroke-width="1.12" />
<line x1="246.50" y1="339.20" x2="305.90" y2="339.20" stroke="#1e1e1e" stroke-width="1.38" />
<rect x="257.50" y="373.50" width="38.30" height="59.70" rx="6" stroke="#1e1e1e" stroke-width="1.50" fill="none"/>
<path d="M254.3,353.5 L298.7,353.5 L298.7,358.3 L290.7,358.3 L290.7,366.8 L298.7,366.8 L298.7,371.5 L254.3,371.5 Z" stroke="#1e1e1e" stroke-width="1.50" fill="none" />
<path d="M290.7,358.3 L279,358.3 A4.25,4.25 0 0 0 279,366.8 L290.7,366.8" stroke="#1e1e1e" stroke-width="1.38" fill="none" />
<circle cx="267.60" cy="362.60" r="2.00" stroke="#1e1e1e" stroke-width="1.88" fill="#444"/>
<circle cx="284.40" cy="362.60" r="2.00" stroke="#1e1e1e" stroke-width="1.88" fill="#444"/>
<path d="M263.6,353.3 L264.6,349.5 L270.6,349.5 L271.6,353.3 M265.6,349.5 L266.1,347.5 L269.1,347.5 L269.6,349.5" stroke="#1e1e1e" stroke-width="1.25" fill="none" />
<path d="M265.20000000000005,371.5 L265.20000000000005,376.5 Q267.6,379.5 270.0,376.5 L270.0,371.5" stroke="#1e1e1e" stroke-width="1.38" fill="none" />
<path d="M280.4,353.3 L281.4,349.5 L287.4,349.5 L288.4,353.3 M282.4,349.5 L282.9,347.5 L285.9,347.5 L286.4,349.5" stroke="#1e1e1e" stroke-width="1.25" fill="none" />
<path d="M282.0,371.5 L282.0,376.5 Q284.4,379.5 286.79999999999995,376.5 L286.79999999999995,371.5" stroke="#1e1e1e" stroke-width="1.38" fill="none" />
<path d="M298.7,453.3 L254.3,453.3 L254.3,458.1 L262.3,458.1 L262.3,466.6 L254.3,466.6 L254.3,471.5 L298.7,471.5 Z" stroke="#1e1e1e" stroke-width="1.50" fill="none" />
<path d="M262.3,458.1 L273,458.1 A4.25,4.25 0 0 1 273,466.6 L262.3,466.6" stroke="#1e1e1e" stroke-width="1.38" fill="none" />
<circle cx="267.60" cy="462.40" r="2.30" stroke="#1e1e1e" stroke-width="1.75" fill="none"/>
<circle cx="284.40" cy="462.40" r="2.30" stroke="#1e1e1e" stroke-width="1.75" fill="none"/>
<path d="M263.6,471.5 L264.6,475.3 L270.6,475.3 L271.6,471.5 M265.6,475.3 L266.1,477.3 L269.1,477.3 L269.6,475.3" stroke="#1e1e1e" stroke-width="1.25" fill="none" />
<path d="M265.20000000000005,453.3 L265.20000000000005,448.3 Q267.6,445.3 270.0,448.3 L270.0,453.3" stroke="#1e1e1e" stroke-width="1.38" fill="none" />
<path d="M280.4,471.5 L281.4,475.3 L287.4,475.3 L288.4,471.5 M282.4,475.3 L282.9,477.3 L285.9,477.3 L286.4,475.3" stroke="#1e1e1e" stroke-width="1.25" fill="none" />
<path d="M282.0,453.3 L282.0,448.3 Q284.4,445.3 286.79999999999995,448.3 L286.79999999999995,453.3" stroke="#1e1e1e" stroke-width="1.38" fill="none" />
<rect x="197.20" y="466.20" width="19.00" height="24.60" rx="0" stroke="#1e1e1e" stroke-width="1.50" fill="none"/>
<line x1="200.00" y1="507.70" x2="251.00" y2="507.70" stroke="#1e1e1e" stroke-width="2.75" />
<line x1="256.00" y1="507.70" x2="328.00" y2="507.70" stroke="#1e1e1e" stroke-width="3.25" />
<rect x="238.00" y="500.00" width="8.00" height="3.00" rx="0" stroke="#1e1e1e" stroke-width="1.25" fill="none"/>
<rect x="271.00" y="500.00" width="36.00" height="5.00" rx="0" stroke="#1e1e1e" stroke-width="1.25" fill="#cfcfcf"/>
<rect x="302.00" y="500.00" width="5.00" height="12.00" rx="0" stroke="#1e1e1e" stroke-width="1.38" fill="#efefef"/>
<line x1="307.00" y1="511.00" x2="460.00" y2="511.00" stroke="#484848" stroke-width="1.25" />
<line x1="135.60" y1="292.50" x2="135.60" y2="351.70" stroke="#484848" stroke-width="1.12" />
<path d="M135.60,325.30 L133.60,315.80 L137.60,315.80Z" fill="#1e1e1e"/>
<path d="M135.60,334.70 L137.60,344.20 L133.60,344.20Z" fill="#1e1e1e"/>
<line x1="131.00" y1="325.30" x2="146.00" y2="325.30" stroke="#5a5a5a" stroke-width="1.00" />
<line x1="131.00" y1="334.70" x2="146.00" y2="334.70" stroke="#5a5a5a" stroke-width="1.00" />
<text x="134.8" y="304.5" font-size="10" font-weight="normal" text-anchor="middle" fill="#2a2a2a" transform="rotate(-90 134.8 304.5)" stroke="#2a2a2a" stroke-width="0.3">40</text>
<line x1="145.30" y1="311.40" x2="145.30" y2="325.30" stroke="#505050" stroke-width="1.12" />
<line x1="406.00" y1="311.40" x2="406.00" y2="327.80" stroke="#505050" stroke-width="1.12" />
<line x1="145.30" y1="315.20" x2="406.00" y2="315.20" stroke="#484848" stroke-width="1.12" />
<path d="M145.30,315.20 L154.80,313.20 L154.80,317.20Z" fill="#1e1e1e"/>
<path d="M406.00,315.20 L396.50,317.20 L396.50,313.20Z" fill="#1e1e1e"/>
<line x1="109.60" y1="351.60" x2="170.00" y2="351.60" stroke="#484848" stroke-width="1.12" />
<path d="M151.20,351.60 L141.70,353.60 L141.70,349.60Z" fill="#1e1e1e"/>
<path d="M160.50,351.60 L170.00,349.60 L170.00,353.60Z" fill="#1e1e1e"/>
<line x1="151.20" y1="330.00" x2="151.20" y2="356.00" stroke="#484848" stroke-width="1.12" />
<line x1="160.50" y1="330.00" x2="160.50" y2="356.00" stroke="#484848" stroke-width="1.12" />
<text x="122" y="348.4" font-size="10" font-weight="normal" text-anchor="middle" fill="#2a2a2a" stroke="#2a2a2a" stroke-width="0.3">40</text>
<line x1="100.00" y1="362.50" x2="200.00" y2="362.50" stroke="#484848" stroke-width="1.12" />
<line x1="124.00" y1="400.20" x2="140.00" y2="400.20" stroke="#484848" stroke-width="1.12" />
<line x1="124.00" y1="437.80" x2="200.00" y2="437.80" stroke="#484848" stroke-width="1.12" />
<line x1="101.30" y1="471.70" x2="146.00" y2="471.70" stroke="#484848" stroke-width="1.12" />
<line x1="100.00" y1="507.20" x2="200.00" y2="507.20" stroke="#484848" stroke-width="1.12" />
<line x1="105.40" y1="362.50" x2="105.40" y2="507.20" stroke="#484848" stroke-width="1.12" />
<path d="M105.40,362.50 L107.40,372.00 L103.40,372.00Z" fill="#1e1e1e"/>
<path d="M105.40,471.70 L103.40,462.20 L107.40,462.20Z" fill="#1e1e1e"/>
<path d="M105.40,471.70 L107.40,481.20 L103.40,481.20Z" fill="#1e1e1e"/>
<path d="M105.40,507.20 L103.40,497.70 L107.40,497.70Z" fill="#1e1e1e"/>
<text x="103.8" y="418.0" font-size="9.3" font-weight="normal" text-anchor="middle" fill="#2a2a2a" transform="rotate(-90 103.8 418.0)" stroke="#2a2a2a" stroke-width="0.3">425</text>
<text x="103.8" y="490.8" font-size="9.3" font-weight="normal" text-anchor="middle" fill="#2a2a2a" transform="rotate(-90 103.8 490.8)" stroke="#2a2a2a" stroke-width="0.3">205</text>
<line x1="130.80" y1="362.50" x2="130.80" y2="437.80" stroke="#484848" stroke-width="1.12" />
<path d="M130.80,362.50 L132.80,372.00 L128.80,372.00Z" fill="#1e1e1e"/>
<path d="M130.80,400.20 L128.80,390.70 L132.80,390.70Z" fill="#1e1e1e"/>
<path d="M130.80,400.20 L132.80,409.70 L128.80,409.70Z" fill="#1e1e1e"/>
<path d="M130.80,437.80 L128.80,428.30 L132.80,428.30Z" fill="#1e1e1e"/>
<text x="129.2" y="380.2" font-size="9.3" font-weight="normal" text-anchor="middle" fill="#2a2a2a" transform="rotate(-90 129.2 380.2)" stroke="#2a2a2a" stroke-width="0.3">135</text>
<text x="129.2" y="418.0" font-size="9.3" font-weight="normal" text-anchor="middle" fill="#2a2a2a" transform="rotate(-90 129.2 418.0)" stroke="#2a2a2a" stroke-width="0.3">135</text>
<line x1="406.00" y1="327.80" x2="460.00" y2="327.80" stroke="#484848" stroke-width="1.12" />
<line x1="406.00" y1="333.00" x2="437.00" y2="333.00" stroke="#484848" stroke-width="1.12" />
<line x1="414.00" y1="400.20" x2="437.00" y2="400.20" stroke="#484848" stroke-width="1.12" />
<line x1="406.00" y1="469.80" x2="437.00" y2="469.80" stroke="#484848" stroke-width="1.12" />
<line x1="429.20" y1="333.00" x2="429.20" y2="469.80" stroke="#484848" stroke-width="1.12" />
<path d="M429.20,333.00 L431.20,342.50 L427.20,342.50Z" fill="#1e1e1e"/>
<path d="M429.20,400.20 L427.20,390.70 L431.20,390.70Z" fill="#1e1e1e"/>
<path d="M429.20,400.20 L431.20,409.70 L427.20,409.70Z" fill="#1e1e1e"/>
<path d="M429.20,469.80 L427.20,460.30 L431.20,460.30Z" fill="#1e1e1e"/>
<text x="427.6" y="366.4" font-size="9.3" font-weight="normal" text-anchor="middle" fill="#2a2a2a" transform="rotate(-90 427.6 366.4)" stroke="#2a2a2a" stroke-width="0.3">270</text>
<text x="427.6" y="434.6" font-size="9.3" font-weight="normal" text-anchor="middle" fill="#2a2a2a" transform="rotate(-90 427.6 434.6)" stroke="#2a2a2a" stroke-width="0.3">270</text>
<line x1="455.60" y1="327.80" x2="455.60" y2="511.00" stroke="#484848" stroke-width="1.12" />
<path d="M455.60,327.80 L457.60,337.30 L453.60,337.30Z" fill="#1e1e1e"/>
<path d="M455.60,511.00 L453.60,501.50 L457.60,501.50Z" fill="#1e1e1e"/>
<text x="454.1" y="419.6" font-size="9.3" font-weight="normal" text-anchor="middle" fill="#2a2a2a" transform="rotate(-90 454.1 419.6)" stroke="#2a2a2a" stroke-width="0.3">785</text>
<text x="415.5" y="314" font-size="10" font-weight="normal" text-anchor="start" fill="#2a2a2a" stroke="#2a2a2a" stroke-width="0.3">&#981; 13</text>
<line x1="436.00" y1="317.20" x2="414.80" y2="317.20" stroke="#484848" stroke-width="1.12" />
<line x1="414.80" y1="317.20" x2="387.90" y2="345.40" stroke="#484848" stroke-width="1.12" />
<path d="M403.00,328.50 L406.38,322.05 L409.28,324.81Z" fill="#1e1e1e"/>
<path d="M398.00,337.50 L394.62,343.95 L391.72,341.19Z" fill="#1e1e1e"/>
<g transform="translate(260 528.4) scale(1 1.06)">
<text x="0" y="0" font-size="9.35" font-weight="bold" text-anchor="start" fill="#2b2b2b" textLength="45" lengthAdjust="spacing">Enclosure</text>
</g>
<line x1="234.80" y1="445.30" x2="259.00" y2="531.40" stroke="#1e1e1e" stroke-width="1.12" />
<line x1="259.00" y1="531.40" x2="289.00" y2="531.40" stroke="#1e1e1e" stroke-width="1.50" />
<g transform="translate(328 526.4) scale(1 1.06)">
<text x="0" y="0" font-size="9.35" font-weight="bold" text-anchor="start" fill="#2b2b2b" textLength="80.6" lengthAdjust="spacing">Institutional cover</text>
</g>
<line x1="314.00" y1="479.60" x2="326.00" y2="529.00" stroke="#1e1e1e" stroke-width="1.12" />
<line x1="326.00" y1="529.00" x2="364.00" y2="529.00" stroke="#1e1e1e" stroke-width="1.50" />
<path d="M801.8,318 Q810,314.5 818,316.5 Q828,319.5 840,316.5 Q848,314.8 854.8,317.2" stroke="#1e1e1e" stroke-width="1.25" fill="none" />
<line x1="801.80" y1="318.00" x2="801.80" y2="357.60" stroke="#1e1e1e" stroke-width="1.25" />
<line x1="854.80" y1="317.20" x2="854.80" y2="357.60" stroke="#1e1e1e" stroke-width="1.25" />
<line x1="802.60" y1="376.10" x2="802.60" y2="487.50" stroke="#1e1e1e" stroke-width="1.25" />
<line x1="854.60" y1="376.10" x2="854.60" y2="487.00" stroke="#1e1e1e" stroke-width="1.25" />
<path d="M802.6,488.2 Q815,491 828,486 Q842,481.5 854.6,487.5" stroke="#1e1e1e" stroke-width="1.25" fill="none" />
<line x1="826.80" y1="309.70" x2="826.80" y2="457.30" stroke="#484848" stroke-width="1.12" />
<path d="M682,334 Q682,320.5 700.4,319.7 L756.5,319.7 Q771,320.5 772.7,331.6 L777,372.6 L777.9,408.2 Q778.5,413 782.3,413.2 L787.6,421.2 L792,460 L668.5,460.9 L668.5,427 Q668.5,422 672,419.5 Q680,413 681,408 Z" stroke="#1e1e1e" stroke-width="1.25" fill="none" />
<line x1="650.80" y1="320.40" x2="700.00" y2="320.40" stroke="#484848" stroke-width="1.12" />
<line x1="650.80" y1="460.90" x2="668.50" y2="460.90" stroke="#484848" stroke-width="1.12" />
<line x1="658.30" y1="320.40" x2="658.30" y2="460.90" stroke="#484848" stroke-width="1.12" />
<path d="M658.30,320.40 L660.30,329.90 L656.30,329.90Z" fill="#1e1e1e"/>
<path d="M658.30,460.90 L656.30,451.40 L660.30,451.40Z" fill="#1e1e1e"/>
<text x="656.5" y="389.3" font-size="12" font-weight="normal" text-anchor="middle" fill="#2a2a2a" transform="rotate(-90 656.5 389.3)" stroke="#2a2a2a" stroke-width="0.3">350</text>
<line x1="728.40" y1="312.20" x2="728.40" y2="471.70" stroke="#484848" stroke-width="1.12" />
<text x="719.8" y="430" font-size="9.6" font-weight="normal" text-anchor="middle" fill="#2a2a2a" transform="rotate(-90 719.8 430)" stroke="#2a2a2a" stroke-width="0.3">350</text>
<line x1="728.40" y1="470.60" x2="791.10" y2="470.60" stroke="#484848" stroke-width="1.12" />
<path d="M728.40,470.60 L737.90,468.60 L737.90,472.60Z" fill="#1e1e1e"/>
<path d="M791.10,470.60 L781.60,472.60 L781.60,468.60Z" fill="#1e1e1e"/>
<line x1="668.50" y1="485.70" x2="791.10" y2="485.70" stroke="#484848" stroke-width="1.12" />
<path d="M668.50,485.70 L678.00,483.70 L678.00,487.70Z" fill="#1e1e1e"/>
<path d="M791.10,485.70 L781.60,487.70 L781.60,483.70Z" fill="#1e1e1e"/>
<line x1="668.50" y1="461.00" x2="668.50" y2="491.10" stroke="#484848" stroke-width="1.12" />
<line x1="791.10" y1="460.00" x2="791.10" y2="491.10" stroke="#484848" stroke-width="1.12" />
<text x="763.9" y="469.6" font-size="11.3" font-weight="normal" text-anchor="middle" fill="#2a2a2a" stroke="#2a2a2a" stroke-width="0.3">150</text>
<text x="736.5" y="482.5" font-size="11.3" font-weight="normal" text-anchor="middle" fill="#2a2a2a" stroke="#2a2a2a" stroke-width="0.3">&#981;300</text>
<path d="M776.2,371.1 L794.7,383.5" stroke="#1e1e1e" stroke-width="1.25" fill="none" />
<path d="M795.6,377.3 L785.6,377.3 Q780.6,377.3 780.6,382.3 L780.6,407 Q780.6,410.8 784.4,410.8 L795.6,410.8" stroke="#1e1e1e" stroke-width="1.38" fill="none" />
<circle cx="788.00" cy="387.90" r="3.80" stroke="#1e1e1e" stroke-width="1.38" fill="none"/>
<circle cx="788.00" cy="402.00" r="3.80" stroke="#1e1e1e" stroke-width="1.38" fill="none"/>
<path d="M789.4,350.5 L789.4,342.5 A4.1,4.1 0 0 1 797.6,342.5 L797.6,456 L801.7,458.2" stroke="#1e1e1e" stroke-width="1.38" fill="none" />
<line x1="799.40" y1="342.50" x2="799.40" y2="444.00" stroke="#1e1e1e" stroke-width="1.25" />
<line x1="799.40" y1="452.00" x2="799.40" y2="456.50" stroke="#1e1e1e" stroke-width="1.25" />
<rect x="798.20" y="357.60" width="61.70" height="18.50" rx="0" stroke="#1e1e1e" stroke-width="1.38" fill="none"/>
<line x1="780.90" y1="367.30" x2="875.80" y2="367.30" stroke="#484848" stroke-width="1.12" />
<rect x="824.30" y="363.20" width="7.80" height="6.50" rx="0" stroke="#1e1e1e" stroke-width="1.25" fill="none"/>
<line x1="824.30" y1="365.40" x2="832.10" y2="365.40" stroke="#1e1e1e" stroke-width="1.00" />
<line x1="824.30" y1="367.40" x2="832.10" y2="367.40" stroke="#1e1e1e" stroke-width="1.00" />
<rect x="791.10" y="360.60" width="5.30" height="12.30" rx="0" stroke="#1e1e1e" stroke-width="1.38" fill="none"/>
<rect x="786.20" y="364.80" width="4.90" height="4.20" rx="0" stroke="#1e1e1e" stroke-width="1.25" fill="none"/>
<rect x="798.20" y="443.20" width="56.40" height="8.30" rx="0" stroke="#1e1e1e" stroke-width="1.38" fill="none"/>
<line x1="792.90" y1="447.30" x2="880.00" y2="447.30" stroke="#484848" stroke-width="1.12" />
<path d="M857.8,455.6 L857.8,442 Q857.8,440.2 859.6,440.2 L861.7,440.2 Q863.5,440.2 863.5,442 L863.5,452.8 Q863.5,455.6 860.6,455.6 Q857.8,455.6 857.8,452.8" stroke="#1e1e1e" stroke-width="1.38" fill="none" />
<line x1="872.20" y1="367.30" x2="872.20" y2="447.30" stroke="#484848" stroke-width="1.12" />
<path d="M872.20,367.30 L874.20,376.80 L870.20,376.80Z" fill="#1e1e1e"/>
<path d="M872.20,447.30 L870.20,437.80 L874.20,437.80Z" fill="#1e1e1e"/>
<text x="869.5" y="402.9" font-size="11.3" font-weight="normal" text-anchor="middle" fill="#2a2a2a" transform="rotate(-90 869.5 402.9)" stroke="#2a2a2a" stroke-width="0.3">195</text>
<text x="681.3" y="302.7" font-size="12" font-weight="normal" text-anchor="start" fill="#2a2a2a" stroke="#2a2a2a" stroke-width="0.3">FDR</text>
<line x1="697.20" y1="306.00" x2="711.20" y2="332.60" stroke="#1e1e1e" stroke-width="1.12" />
<g transform="translate(741.8 308.9) scale(1 1.06)">
<text x="0" y="0" font-size="9.35" font-weight="bold" text-anchor="start" fill="#2b2b2b" textLength="68.6" lengthAdjust="spacing">Install the hook</text>
</g>
<line x1="775.40" y1="311.20" x2="794.20" y2="337.80" stroke="#1e1e1e" stroke-width="1.12" />
<g transform="translate(862 305.7) scale(1 1.06)">
<text x="0" y="0" font-size="9.35" font-weight="bold" text-anchor="start" fill="#2b2b2b" textLength="47.1" lengthAdjust="spacing">Utility pole</text>
</g>
<line x1="870.80" y1="309.70" x2="845.80" y2="330.60" stroke="#1e1e1e" stroke-width="1.12" />
<g transform="translate(868.3 343.4) scale(1 1.06)">
<text x="0" y="0" font-size="9.35" font-weight="bold" text-anchor="start" fill="#2b2b2b" textLength="82.4" lengthAdjust="spacing">Mounting brackets</text>
</g>
<line x1="876.70" y1="347.30" x2="850.20" y2="363.20" stroke="#1e1e1e" stroke-width="1.12" />
<g transform="translate(789.6 503.6) scale(1 1.06)">
<text x="0" y="0" font-size="9.35" font-weight="bold" text-anchor="start" fill="#2b2b2b" textLength="83.4" lengthAdjust="spacing">Mounting brackets</text>
</g>
<g transform="translate(749.6 515.4) scale(1 1.06)">
<text x="0" y="0" font-size="9.35" font-weight="bold" text-anchor="start" fill="#2b2b2b" textLength="164.8" lengthAdjust="spacing">[Suitable for diameters below &#934;350.]</text>
</g>
<text x="654.3" y="546" font-size="12" font-weight="bold" text-anchor="start" fill="#262626" textLength="205.3" lengthAdjust="spacingAndGlyphs" >Control device dimensional drawing</text>
</svg></body></html>
